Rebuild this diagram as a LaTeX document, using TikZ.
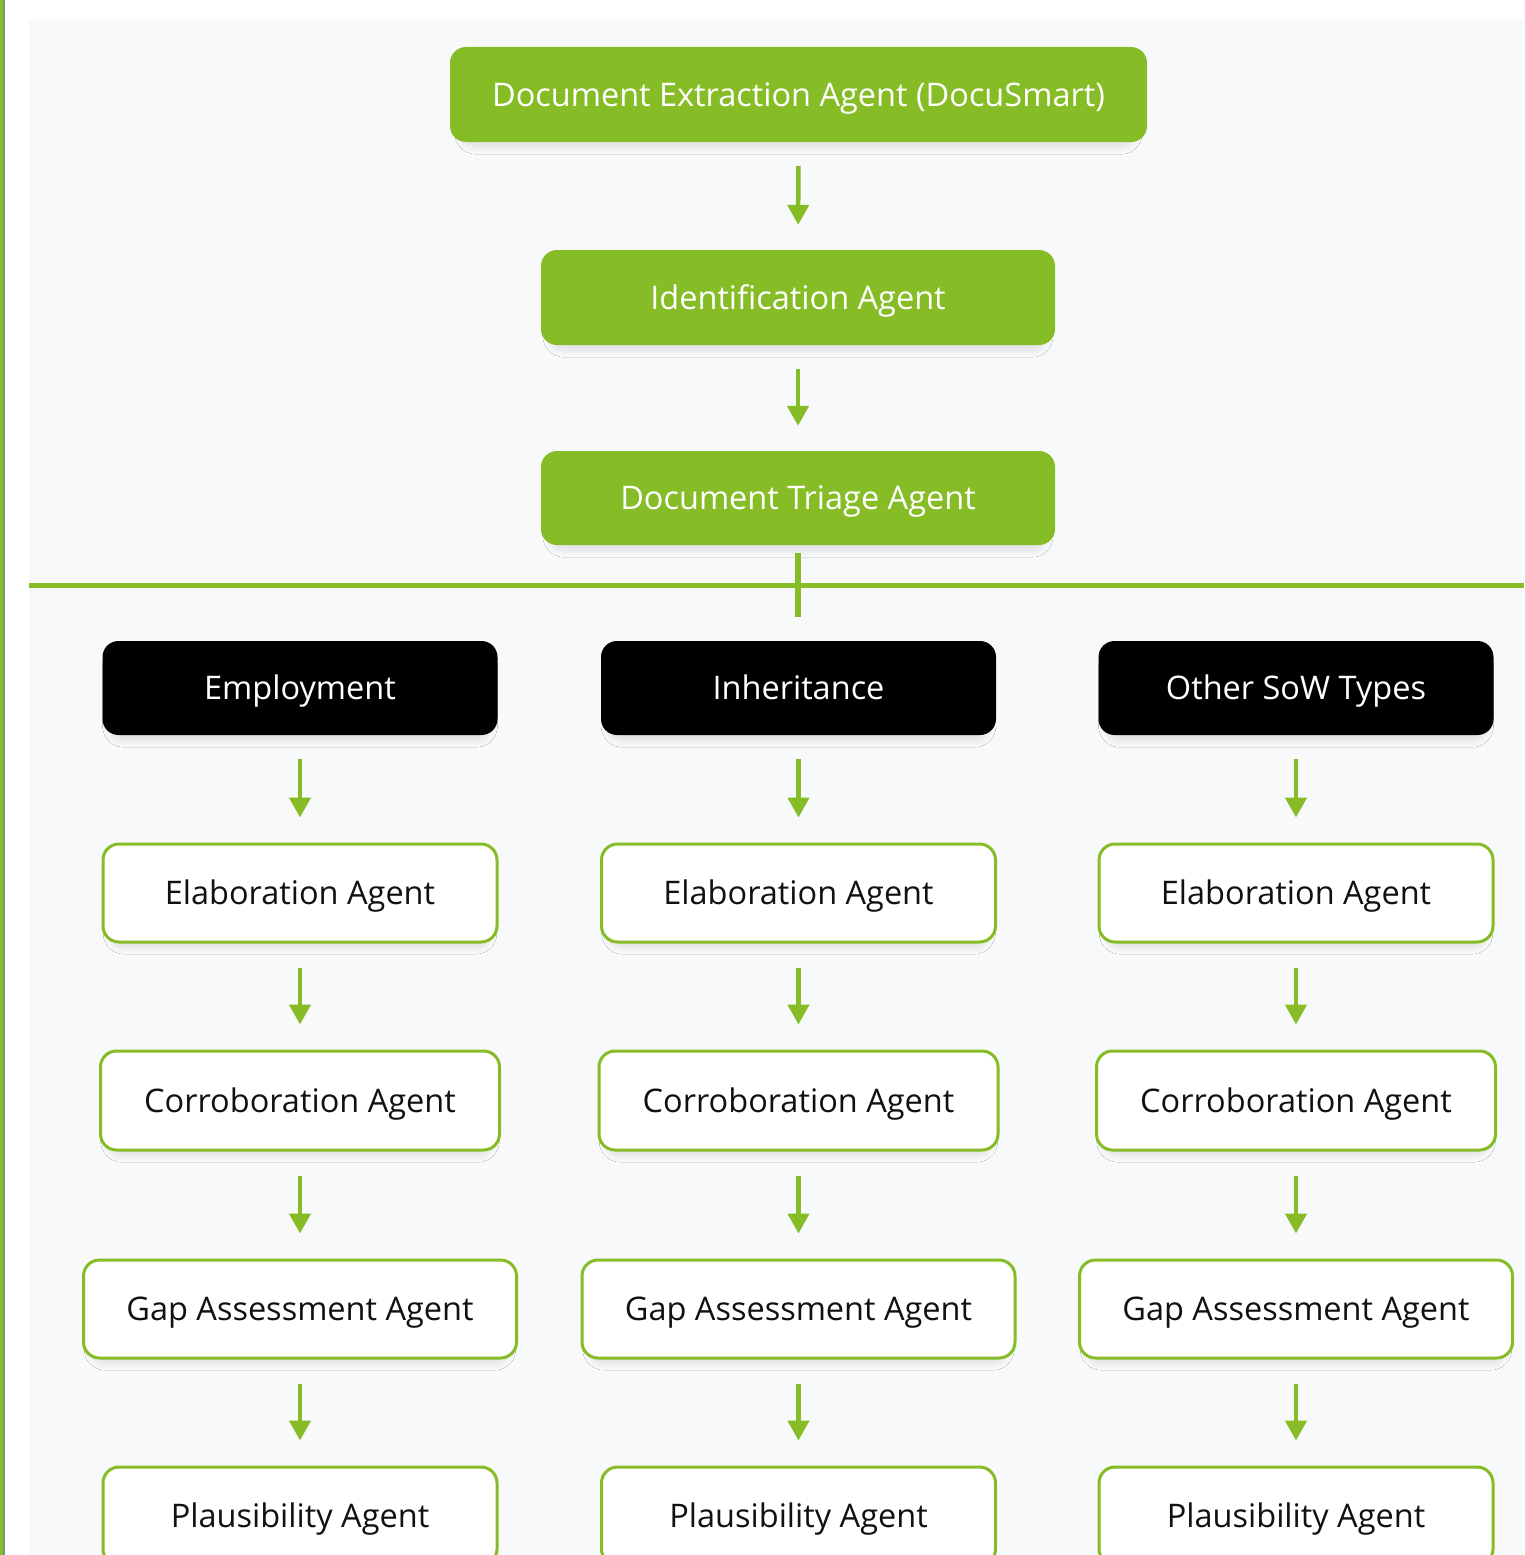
\documentclass[tikz,border=0pt]{standalone}
\usepackage{fontspec}
\setmainfont{Open Sans}
\usetikzlibrary{arrows.meta,shadows.blur}
\definecolor{dgreen}{HTML}{86BC25}
\definecolor{bggray}{HTML}{F8F9FA}
\definecolor{leftgreen}{HTML}{7FC31C}
\definecolor{leftgray}{HTML}{8A8A8A}
\definecolor{ink}{HTML}{111111}
\begin{document}
\begin{tikzpicture}[x=1pt,y=-1pt,
  base/.style={rounded corners=16pt, align=center, font=\fontsize{32.5}{38}\selectfont,
    inner sep=0pt, text height=23.3pt, text depth=0pt,
    blur shadow={shadow xshift=0pt,shadow yshift=-8pt,shadow blur radius=6pt,shadow blur steps=12,shadow opacity=9,shadow scale=0.97}},
  topbox/.style={base, fill=dgreen, text=white, minimum height=95pt},
  catbox/.style={base, fill=black, text=white, minimum width=395pt, minimum height=94pt},
  agentbox/.style={base, fill=white, draw=dgreen, line width=3pt, text=ink, minimum height=98pt},
  flow/.style={-{Triangle[width=21pt,length=20pt]}, draw=dgreen, line width=4.5pt, shorten <=24pt, shorten >=25pt},
]
\useasboundingbox (0,0) rectangle (1524,1555);
\clip (0,0) rectangle (1524,1555);
% frame
\fill[white] (0,0) rectangle (1524,1555);
\fill[bggray] (29,19) rectangle (1524,1555);
\fill[leftgreen] (0,0) rectangle (3,1555);
\fill[leftgray] (3,0) rectangle (5,1555);

% top chain
\node[topbox, minimum width=697pt] (ext) at (798.5,94.5) {Document Extraction Agent (DocuSmart)};
\node[topbox, minimum width=514pt] (ident) at (798,297.5) {Identification Agent};
\node[topbox, minimum width=514pt, minimum height=94pt] (triage) at (798,498) {Document Triage Agent};
\draw[flow] (ext) -- (ident);
\draw[flow] (ident) -- (triage);

% divider
\draw[dgreen, line width=5pt] (29,585) -- (1524,585);
\coordinate (split) at (798,617);
\draw[dgreen, line width=6pt, shorten <=8pt] (triage) -- (split);

% columns
\foreach \c/\x/\t in {emp/300/Employment, inh/798.5/Inheritance, oth/1296/Other SoW Types} {
  \node[catbox] (\c-cat) at (\x,688) {\t};
  \node[agentbox, minimum width=394pt] (\c-elab) at (\x,893) {Elaboration Agent};
  \node[agentbox, minimum width=399pt, minimum height=99pt] (\c-corr) at (\x,1100.5) {Corroboration Agent};
  \node[agentbox, minimum width=433pt] (\c-gap) at (\x,1309) {Gap Assessment Agent};
  \node[agentbox, minimum width=394pt] (\c-plaus) at (\x,1516) {Plausibility Agent};
  \draw[flow] (\c-cat) -- (\c-elab);
  \draw[flow] (\c-elab) -- (\c-corr);
  \draw[flow] (\c-corr) -- (\c-gap);
  \draw[flow] (\c-gap) -- (\c-plaus);
}
\end{tikzpicture}
\end{document}
